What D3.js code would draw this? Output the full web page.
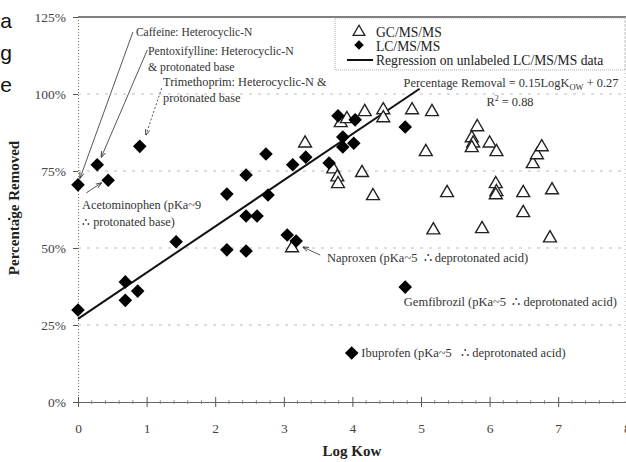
<!DOCTYPE html>
<html>
<head>
<meta charset="utf-8">
<script src="https://cdn.jsdelivr.net/npm/d3@7/dist/d3.min.js"></script>
<style>
  body { margin: 0; background: #fff; }
  svg { display: block; font-family: "Liberation Serif", "DejaVu Serif", serif; }
</style>
</head>
<body>
<svg id="chart" width="626" height="462"></svg>
<script>
// Log Kow vs. removal, GC and LC data
var gcKow = [3.12, 3.31, 3.72, 3.78, 3.79, 3.83, 3.92, 4.14, 4.18, 4.30, 4.45, 4.45, 4.87, 5.07, 5.16, 5.18, 5.38,
             5.74, 5.76, 5.74, 5.82, 5.89, 6.00, 6.10, 6.09, 6.10, 6.09, 6.49, 6.49, 6.63, 6.69, 6.76, 6.88, 6.91];
var gcRemoved = [50, 84, 75.6, 73, 70.8, 90.6, 91.9, 74.4, 94.2, 66.9, 94.8, 92.2, 94.8, 81.2, 94.2, 55.8, 67.9,
                 85.7, 84, 82.5, 89.3, 56.2, 84, 81.2, 70.8, 68.2, 67.2, 67.9, 61.4, 77.3, 80.2, 82.8, 53.2, 68.8];

var lcKow = [0, 0.28, 0.44, 0.90, 0, 0.69, 0.69, 0.87, 1.43, 2.17, 2.17, 2.45, 2.45, 2.45, 2.61, 2.74, 2.77,
             3.05, 3.13, 3.18, 3.32, 3.66, 3.79, 3.86, 3.86, 4.02, 4.04, 4.77, 4.77, 3.99];
var lcRemoved = [70.5, 77, 72, 83, 29.9, 39, 33, 36, 52, 49.4, 67.5, 73.7, 60.4, 49, 60.4, 80.5, 67.2,
                 54.2, 77, 52.3, 79.5, 77.6, 92.9, 86, 82.8, 84, 91.6, 89.3, 37.3, 15.9];

// regression: removal = 0.15 LogKow + 0.27
var regSlope = 0.15;
var regIntercept = 0.27;
var regRange = [0, 4.98];

var xTicks = [0, 1, 2, 3, 4, 5, 6, 7, 8];
var yTicks = [0, 25, 50, 75, 100, 125];
var yTickLabels = ['0%', '25%', '50%', '75%', '100%', '125%'];

var legendLabels = ['GC/MS/MS', 'LC/MS/MS', 'Regression on unlabeled LC/MS/MS data'];

var chart = {

    svg: d3.select('#chart'),
    x: d3.scaleLinear().domain([0, 8]).range([78, 626.8]),
    y: d3.scaleLinear().domain([0, 125]).range([402, 17]),

    drawGrid: function () {
        var x = chart.x, y = chart.y;
        chart.svg.append('g').selectAll('line')
            .data(yTicks.filter(function (d) { return d > 0 && d < 125; }))
            .enter().append('line')
            .attr('x1', x(0)).attr('x2', x(8))
            .attr('y1', function (d) { return y(d); }).attr('y2', function (d) { return y(d); })
            .attr('stroke', '#bdbdbd').attr('stroke-width', 1).attr('stroke-dasharray', '3,6');

        // top frame line and right edge
        chart.svg.append('line')
            .attr('x1', x(0)).attr('x2', x(8)).attr('y1', y(125)).attr('y2', y(125))
            .attr('stroke', '#555').attr('stroke-width', 1.6);
        chart.svg.append('line')
            .attr('x1', x(8) - 1.5).attr('x2', x(8) - 1.5).attr('y1', y(125)).attr('y2', y(0))
            .attr('stroke', '#bbb').attr('stroke-width', 1).attr('stroke-dasharray', '1,3');
    },

    drawAxes: function () {
        var x = chart.x, y = chart.y;

        // y axis: dotted line, small ticks, labels
        var ya = chart.svg.append('g').attr('transform', 'translate(' + x(0) + ',0)')
            .call(d3.axisLeft(y).tickValues(yTicks).tickSize(5).tickPadding(7)
                .tickFormat(function (d, i) { return yTickLabels[i]; }));
        ya.select('.domain').attr('stroke', '#777').attr('stroke-dasharray', '1,2');
        ya.selectAll('.tick line').attr('stroke', '#555');
        ya.selectAll('text').attr('font-family', '"Liberation Serif", serif').attr('font-size', '13.5px').attr('fill', '#444');

        // x axis: majors cross the line, minors every 0.2
        var xa = chart.svg.append('g').attr('transform', 'translate(0,' + y(0) + ')')
            .call(d3.axisBottom(x).tickValues(xTicks).tickSize(5).tickPadding(16).tickFormat(d3.format('d')));
        xa.select('.domain').attr('stroke', '#666');
        xa.selectAll('.tick line').attr('y1', -5).attr('stroke', '#555');
        xa.selectAll('text').attr('font-family', '"Liberation Serif", serif').attr('font-size', '13.5px').attr('fill', '#444');

        var minor = d3.range(0, 40).map(function (i) { return i * 0.2; }).filter(function (d) { return Math.abs(d - Math.round(d)) > 0.01; });
        chart.svg.append('g').selectAll('line').data(minor).enter().append('line')
            .attr('x1', function (d) { return x(d); }).attr('x2', function (d) { return x(d); })
            .attr('y1', y(0) - 2).attr('y2', y(0) + 2)
            .attr('stroke', '#777').attr('stroke-width', 0.8);

        chart.svg.append('text')
            .attr('x', 352).attr('y', 456).attr('text-anchor', 'middle')
            .attr('font-size', '15px').attr('font-weight', 'bold').attr('fill', '#222')
            .text('Log Kow');
        chart.svg.append('text')
            .attr('transform', 'translate(19,208) rotate(-90)').attr('text-anchor', 'middle')
            .attr('font-size', '15px').attr('font-weight', 'bold').attr('fill', '#222')
            .text('Percentage Removed');
    },

    drawRegression: function () {
        var x = chart.x, y = chart.y;
        var line = d3.line()
            .x(function (d) { return x(d); })
            .y(function (d) { return y((regSlope * d + regIntercept) * 100); });
        chart.svg.append('path').datum(regRange)
            .attr('d', line).attr('fill', 'none').attr('stroke', '#111').attr('stroke-width', 2);
    },

    drawPoints: function () {
        var x = chart.x, y = chart.y;
        var tri = d3.symbol().type(d3.symbolTriangle).size(72);
        var dia = d3.symbol().type(d3.symbolSquare).size(92);

        chart.svg.append('g').selectAll('path').data(gcKow).enter().append('path')
            .attr('d', tri)
            .attr('transform', function (d, i) { return 'translate(' + x(d) + ',' + y(gcRemoved[i]) + ')'; })
            .attr('fill', '#fff').attr('stroke', '#222').attr('stroke-width', 1.4);

        chart.svg.append('g').selectAll('path').data(lcKow).enter().append('path')
            .attr('d', dia)
            .attr('transform', function (d, i) { return 'translate(' + x(d) + ',' + y(lcRemoved[i]) + ') rotate(45)'; })
            .attr('fill', '#000');
    },

    drawLegend: function () {
        var g = chart.svg.append('g');
        g.append('rect').attr('x', 335).attr('y', 18).attr('width', 290).attr('height', 52)
            .attr('fill', '#fff').attr('stroke', '#999').attr('stroke-width', 0.8).attr('stroke-dasharray', '1,1');
        g.append('path').attr('d', d3.symbol().type(d3.symbolTriangle).size(60))
            .attr('transform', 'translate(359,32)').attr('fill', '#fff').attr('stroke', '#222').attr('stroke-width', 1.3);
        g.append('path').attr('d', d3.symbol().type(d3.symbolSquare).size(45))
            .attr('transform', 'translate(359,45) rotate(45)').attr('fill', '#000');
        g.append('line').attr('x1', 347).attr('x2', 373).attr('y1', 60).attr('y2', 60)
            .attr('stroke', '#111').attr('stroke-width', 2);
        g.selectAll('text').data(legendLabels).enter().append('text')
            .attr('x', 376).attr('y', function (d, i) { return 36.5 + i * 14.3; })
            .attr('font-size', '13.6px').attr('fill', '#222')
            .text(function (d) { return d; });
    },

    drawNotes: function () {
        var x = chart.x, y = chart.y;
        var defs = chart.svg.append('defs');
        defs.append('marker').attr('id', 'arr').attr('viewBox', '0 0 10 10')
            .attr('refX', 9).attr('refY', 5).attr('markerWidth', 7).attr('markerHeight', 7)
            .attr('orient', 'auto').append('path').attr('d', 'M0,1.5 L10,5 L0,8.5').attr('fill', 'none')
            .attr('stroke', '#333').attr('stroke-width', 1.3);

        var sp = '\u00a0\u00a0';
        var notes = [
            { x: 0.845, y: 118.8, s: 11.5, t: 'Caffeine: Heterocyclic-N' },
            { x: 1.02, y: 112.7, s: 11.8, t: 'Pentoxifylline: Heterocyclic-N' },
            { x: 1.02, y: 107.5, s: 11.8, t: '& protonated base' },
            { x: 1.24, y: 102.6, s: 12.3, t: 'Trimethoprim: Heterocyclic-N &' },
            { x: 1.24, y: 97.4, s: 12.3, t: 'protonated base' },
            { x: 0.06, y: 62.8, s: 12.3, t: 'Acetominophen (pKa~9' },
            { x: 0.06, y: 57.1, s: 12.3, t: '\u2234 protonated base)' },
            { x: 3.63, y: 45.5, s: 12.5, t: 'Naproxen (pKa~5' + sp + '\u2234 deprotonated acid)' },
            { x: 4.75, y: 31.2, s: 12.5, t: 'Gemfibrozil (pKa~5' + sp + '\u2234 deprotonated acid)' },
            { x: 4.13, y: 14.6, s: 12.5, t: 'Ibuprofen (pKa~5' + sp + '\u00a0\u2234 deprotonated acid)' }
        ];
        chart.svg.append('g').selectAll('text').data(notes).enter().append('text')
            .attr('x', function (d) { return x(d.x); }).attr('y', function (d) { return y(d.y); })
            .attr('font-size', function (d) { return d.s + 'px'; }).attr('fill', '#333')
            .text(function (d) { return d.t; });

        var leaders = [
            { a: [0.80, 120.1], b: [0.03, 72.7], dash: null },
            { a: [1.01, 114.3], b: [0.34, 79.5], dash: null },
            { a: [1.22, 101.9], b: [0.99, 86.7], dash: '2,2' },
            { a: [0.12, 67.9], b: [0.34, 71.1], dash: null },
            { a: [3.53, 47.7], b: [3.28, 50.3], dash: null }
        ];
        chart.svg.append('g').selectAll('line').data(leaders).enter().append('line')
            .attr('x1', function (d) { return x(d.a[0]); }).attr('y1', function (d) { return y(d.a[1]); })
            .attr('x2', function (d) { return x(d.b[0]); }).attr('y2', function (d) { return y(d.b[1]); })
            .attr('stroke', '#444').attr('stroke-width', 0.9)
            .attr('stroke-dasharray', function (d) { return d.dash; })
            .attr('marker-end', 'url(#arr)');

        // equation block
        var eq = chart.svg.append('text').attr('x', 511).attr('y', 87).attr('text-anchor', 'middle')
            .attr('font-size', '12.4px').attr('fill', '#333');
        eq.append('tspan').text('Percentage Removal = 0.15LogK');
        eq.append('tspan').attr('dy', 3).attr('font-size', '8.5px').text('OW');
        eq.append('tspan').attr('dy', -3).text(' + 0.27');
        var r2 = chart.svg.append('text').attr('x', 510).attr('y', 106).attr('text-anchor', 'middle')
            .attr('font-size', '12.4px').attr('fill', '#333');
        r2.append('tspan').text('R');
        r2.append('tspan').attr('dy', -5).attr('font-size', '8px').text('2');
        r2.append('tspan').attr('dy', 5).text(' = 0.88');
    },

    // cut-off slide text at the left edge
    drawEdge: function () {
        var bits = [['a', 28], ['g', 60], ['e', 92], ['.', 220]];
        chart.svg.append('g').selectAll('text').data(bits).enter().append('text')
            .attr('x', 12).attr('y', function (d) { return d[1]; }).attr('text-anchor', 'end')
            .attr('font-family', '"Liberation Sans", Arial, sans-serif').attr('font-size', '21px').attr('fill', '#111')
            .text(function (d) { return d[0]; });
    }
};

chart.drawGrid();
chart.drawAxes();
chart.drawRegression();
chart.drawNotes();
chart.drawPoints();
chart.drawLegend();
chart.drawEdge();
</script>
</body>
</html>
